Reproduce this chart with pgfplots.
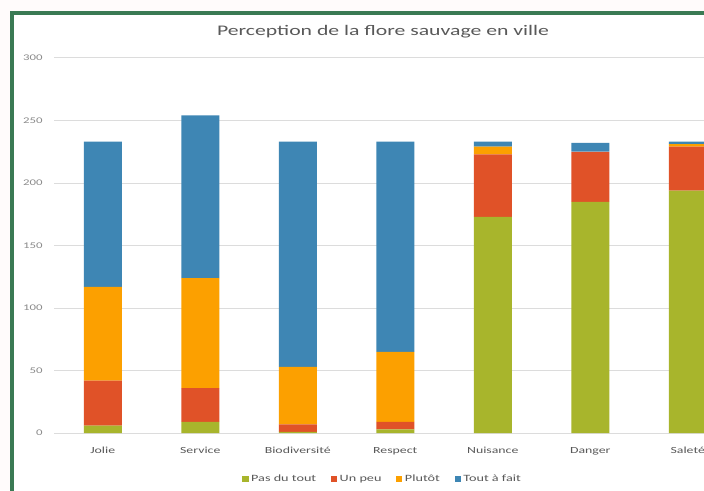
\documentclass[border=0pt]{standalone}
\usepackage{pgfplots}
\pgfplotsset{compat=1.18}
\usepackage{fontspec}
\setmainfont{Carlito}[FakeStretch=1.48]
\definecolor{cgreen}{RGB}{168,181,44}
\definecolor{cred}{RGB}{224,82,40}
\definecolor{corange}{RGB}{252,160,0}
\definecolor{cblue}{RGB}{62,134,180}
\definecolor{cframe}{RGB}{58,122,84}
\definecolor{ctext}{RGB}{89,89,89}
\definecolor{cgrid}{RGB}{220,220,220}
\begin{document}
\begin{tikzpicture}
\useasboundingbox (0,0) rectangle (528pt,367.5pt);
\clip (0,0) rectangle (528pt,367.5pt);
\fill[white!96!red!40!white] (0,0) rectangle (528pt,367.5pt);
\fill[white] (9pt,-3.75pt) rectangle (567pt,357.75pt);
\begin{axis}[
  at={(40.5pt,42.75pt)}, anchor=south west,
  scale only axis, width=511.875pt, height=281.25pt,
  ybar stacked, bar width=28.5pt,
  xmin=-0.5, xmax=6.5, ymin=0, ymax=300,
  ytick={0,50,...,300},
  xtick={0,...,6},
  xticklabels={Jolie,Service,Biodiversité,Respect,Nuisance,Danger,Saleté},
  axis line style={draw=none},
  major tick length=0pt,
  ymajorgrids, major grid style={cgrid, line width=0.75pt},
  /pgf/number format/assume math mode=true,
  yticklabel style={font=\fontsize{6.5}{7}\selectfont, text=ctext!70, xshift=-5pt},
  xticklabel style={font=\fontsize{7}{8}\selectfont, text=ctext, yshift=-7pt},
  legend style={at={(0.482,-0.123)}, anchor=center, draw=none, fill=none,
    legend columns=4, font=\fontsize{7.2}{8}\selectfont, text=ctext,
    /tikz/every even column/.append style={column sep=9pt}},
  legend image code/.code={\fill[#1] (0pt,-2.3pt) rectangle (4.6pt,2.3pt);},
  legend cell align=left,
  clip=true,
]
\addplot[fill=cgreen, draw=none] coordinates {(0,6) (1,9) (2,1) (3,3) (4,173) (5,185) (6,194)};
\addplot[fill=cred, draw=none] coordinates {(0,36) (1,27) (2,6) (3,6) (4,50) (5,40) (6,35)};
\addplot[fill=corange, draw=none] coordinates {(0,75) (1,88) (2,46) (3,56) (4,6) (5,0) (6,2)};
\addplot[fill=cblue, draw=none] coordinates {(0,116) (1,130) (2,180) (3,168) (4,4) (5,7) (6,2)};
\legend{Pas du tout, Un peu, Plutôt, Tout à fait}
\end{axis}
\draw[cframe, line width=3pt] (9pt,-3.75pt) rectangle (567pt,357.75pt);
\node[font=\fontsize{11}{13}\selectfont, text=ctext] at (287.25pt,344pt) {Perception de la flore sauvage en ville};
\end{tikzpicture}
\end{document}
